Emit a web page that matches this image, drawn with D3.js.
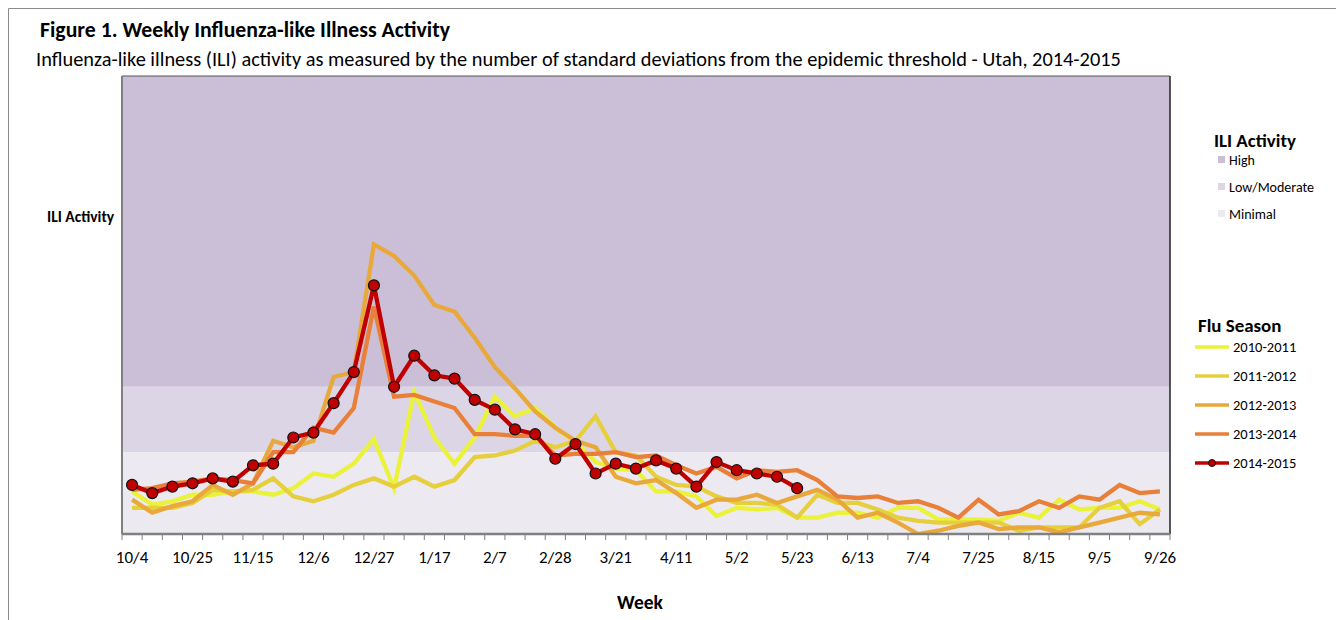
<!DOCTYPE html>
<html>
<head>
<meta charset="utf-8">
<script src="https://cdn.jsdelivr.net/npm/d3@7/dist/d3.min.js"></script>
<style>
  html, body { margin: 0; padding: 0; background: #fff; }
  svg { display: block; }
  text { font-family: Carlito, Lato, "Open Sans", sans-serif; fill: #000; }
</style>
</head>
<body>
<svg id="chart" width="1336" height="620"></svg>
<script>
// ---- Data ----
const weeks = ["10/4","10/11","10/18","10/25","11/1","11/8","11/15","11/22","11/29","12/6","12/13","12/20",
  "12/27","1/3","1/10","1/17","1/24","1/31","2/7","2/14","2/21","2/28","3/7","3/14","3/21","3/28","4/4",
  "4/11","4/18","4/25","5/2","5/9","5/16","5/23","5/30","6/6","6/13","6/20","6/27","7/4","7/11","7/18",
  "7/25","8/1","8/8","8/15","8/22","8/29","9/5","9/12","9/19","9/26"];

const s2010_2011 = [-2.4,-3.2,-3.0,-2.6,-2.6,-2.4,-2.4,-2.6,-2.2,-1.3,-1.5,-0.7,0.8,-2.2,3.7,0.9,-0.7,0.9,3.4,2.2,2.7,1.5,0.6,-0.6,-1.0,-1.1,-2.4,-2.4,-2.7,-3.9,-3.4,-3.5,-3.4,-4.0,-4.0,-3.7,-3.7,-4.0,-3.4,-3.4,-4.1,-4.1,-4.1,-4.2,-3.7,-4.0,-2.9,-3.5,-3.4,-3.4,-3.0,-3.5];
const s2011_2012 = [-3.4,-3.4,-3.4,-3.1,-2.3,-2.4,-2.3,-1.6,-2.7,-3.0,-2.6,-2.0,-1.6,-2.1,-1.5,-2.1,-1.7,-0.3,-0.2,0.1,0.7,0.3,0.7,2.2,0.0,-0.2,-1.5,-2.0,-2.1,-2.7,-3.1,-3.1,-3.2,-4.0,-2.6,-3.1,-3.1,-3.5,-4.0,-4.2,-4.3,-4.3,-4.3,-4.3,-4.8,-4.6,-4.6,-4.6,-3.4,-3.0,-4.4,-3.5];
const s2012_2013 = [-2.9,-3.7,-3.3,-3.0,-2.0,-2.6,-1.9,0.7,0.3,0.7,4.6,4.9,12.7,12.0,10.8,9.0,8.6,7.0,5.2,3.9,2.5,1.5,0.7,0.3,-1.5,-1.9,-1.7,-2.5,-3.4,-2.9,-2.9,-2.6,-3.1,-2.7,-2.3,-2.9,-4.0,-3.7,-4.3,-5.0,-4.8,-4.5,-4.3,-4.7,-4.6,-4.6,-4.9,-4.6,-4.3,-4.0,-3.7,-3.8];
const s2013_2014 = [-2.3,-2.2,-1.9,-1.8,-1.6,-1.7,-1.9,0.0,0.0,1.5,1.2,2.7,8.9,3.4,3.5,3.1,2.7,1.1,1.1,1.0,1.0,-0.2,-0.1,-0.1,0.0,-0.3,-0.2,-0.8,-1.3,-0.9,-1.6,-1.1,-1.2,-1.1,-1.7,-2.7,-2.8,-2.7,-3.1,-3.0,-3.4,-4.0,-2.9,-3.8,-3.6,-3.0,-3.4,-2.7,-2.9,-2.0,-2.5,-2.4];
const s2014_2015 = [-2.0,-2.5,-2.1,-1.9,-1.6,-1.8,-0.8,-0.7,0.9,1.2,3.0,4.9,10.2,4.0,5.9,4.7,4.5,3.2,2.6,1.4,1.1,-0.4,0.5,-1.3,-0.7,-1.0,-0.5,-1.0,-2.1,-0.6,-1.1,-1.3,-1.5,-2.2];

const seasonNames = ["2010-2011","2011-2012","2012-2013","2013-2014","2014-2015"];
const seasonValues = [s2010_2011, s2011_2012, s2012_2013, s2013_2014, s2014_2015];
const seasonColors = ["#EAF23A","#E6CF3C","#E9A83A","#E8803A","#C00000"];

const activityLevels = ["High","Low/Moderate","Minimal"];
const levelFrom = [4, 0, -5];
const levelTo = [23, 4, 0];
const levelColors = ["#CBBFD8","#DCD5E5","#ECE9F1"];

// ---- Layout ----
const svg = d3.select("#chart");
const L = 122, R = 1170, T = 76, B = 534;

const x = d3.scaleBand().domain(weeks).range([L, R]).padding(0);
const y = d3.scaleLinear().domain([-5, 23]).range([B, T]);
const cx = w => x(w) + x.bandwidth() / 2;

// fit a text element's font size so it spans a given width
function fit(sel, width) {
  const n = sel.node();
  const fs = parseFloat(sel.attr("font-size"));
  const w = n.getComputedTextLength();
  if (w > 0) sel.attr("font-size", (fs * width / w).toFixed(2));
  return sel;
}

// outer frame
svg.append("path").attr("d", `M8.5,620 V8.5 H1336`).attr("fill", "none").attr("stroke", "#8c8c8c").attr("stroke-width", 1);

// titles
fit(svg.append("text").attr("x", 40).attr("y", 37).attr("font-size", 20).attr("font-weight", "bold")
  .text("Figure 1. Weekly Influenza-like Illness Activity"), 410);
fit(svg.append("text").attr("x", 36).attr("y", 66).attr("font-size", 18)
  .text("Influenza-like illness (ILI) activity as measured by the number of standard deviations from the epidemic threshold - Utah, 2014-2015"), 1086);

// background bands
svg.append("g").selectAll("rect").data(activityLevels).join("rect")
  .attr("x", L).attr("width", R - L)
  .attr("y", (d, i) => y(levelTo[i]))
  .attr("height", (d, i) => y(levelFrom[i]) - y(levelTo[i]))
  .attr("fill", (d, i) => levelColors[i]);

// plot border
svg.append("line").attr("x1", R).attr("x2", R).attr("y1", T).attr("y2", B).attr("stroke", "#222").attr("stroke-width", 1.5);
svg.append("line").attr("x1", L).attr("x2", R).attr("y1", T).attr("y2", T).attr("stroke", "#555").attr("stroke-width", 1);
svg.append("line").attr("x1", L).attr("x2", L).attr("y1", T).attr("y2", B).attr("stroke", "#808080").attr("stroke-width", 2);

// clip
svg.append("clipPath").attr("id", "clip").append("rect").attr("x", L).attr("y", T).attr("width", R - L).attr("height", B - T);

// lines
const line = d3.line().x((d, i) => cx(weeks[i])).y(d => y(d));
const gLines = svg.append("g").attr("clip-path", "url(#clip)");
gLines.selectAll("path").data(seasonValues).join("path")
  .attr("d", d => line(d))
  .attr("fill", "none")
  .attr("stroke", (d, i) => seasonColors[i])
  .attr("stroke-width", 4.3)
  .attr("stroke-linejoin", "miter");

// markers for current season
gLines.append("g").selectAll("circle").data(s2014_2015).join("circle")
  .attr("cx", (d, i) => cx(weeks[i])).attr("cy", d => y(d)).attr("r", 5.5)
  .attr("fill", "#C00000").attr("stroke", "#111").attr("stroke-width", 1.2);

// x axis
const axisG = svg.append("g").attr("transform", `translate(0,${B})`)
  .call(d3.axisBottom(x).tickSize(0).tickPadding(17).tickFormat((d, i) => i % 3 === 0 ? d : ""));
axisG.select(".domain").remove();
axisG.selectAll("text").attr("font-size", 17).attr("font-family", "Carlito, Lato, sans-serif").attr("fill", "#000");
// ticks at category boundaries
const boundaries = weeks.map(w => x(w)).concat([R]);
svg.append("g").selectAll("line").data(boundaries).join("line")
  .attr("x1", d => d).attr("x2", d => d).attr("y1", B).attr("y2", B + 6)
  .attr("stroke", "#808080").attr("stroke-width", 1);
svg.append("line").attr("x1", L).attr("x2", R).attr("y1", B).attr("y2", B).attr("stroke", "#808080").attr("stroke-width", 2.5);

// axis titles
fit(svg.append("text").attr("x", 617).attr("y", 609).attr("font-size", 17).attr("font-weight", "bold").text("Week"), 46);
svg.append("text").attr("x", 47).attr("y", 222).attr("font-size", 15.5).attr("font-weight", "bold").text("ILI Activity");

// legend: ILI activity
const lg1 = svg.append("g");
const lgTitle = fit(lg1.append("text").attr("x", 1214).attr("y", 147).attr("font-size", 17).attr("font-weight", "bold").text("ILI Activity"), 82);
const lgTitleSize = lgTitle.attr("font-size");
const lg1i = lg1.selectAll("g").data(activityLevels).join("g")
  .attr("transform", (d, i) => `translate(1218,${160 + i * 27})`);
lg1i.append("rect").attr("x", 0).attr("y", -4).attr("width", 7).attr("height", 7).attr("fill", (d, i) => levelColors[i]);
lg1i.append("text").attr("x", 11).attr("y", 4.5).attr("font-size", 14).text(d => d);

// legend: flu season
const lg2 = svg.append("g");
lg2.append("text").attr("x", 1198).attr("y", 332).attr("font-size", lgTitleSize).attr("font-weight", "bold").text("Flu Season");
const lg2i = lg2.selectAll("g").data(seasonNames).join("g")
  .attr("transform", (d, i) => `translate(1195,${347 + i * 29})`);
lg2i.append("line").attr("x1", 0).attr("x2", 34).attr("y1", 0).attr("y2", 0)
  .attr("stroke", (d, i) => seasonColors[i]).attr("stroke-width", 3.5);
lg2i.filter((d, i) => i === 4).append("circle").attr("cx", 17).attr("cy", 0).attr("r", 3.5)
  .attr("fill", "#C00000").attr("stroke", "#111").attr("stroke-width", 1);
lg2i.append("text").attr("x", 38).attr("y", 5).attr("font-size", 14.5).text(d => d);
</script>
</body>
</html>
